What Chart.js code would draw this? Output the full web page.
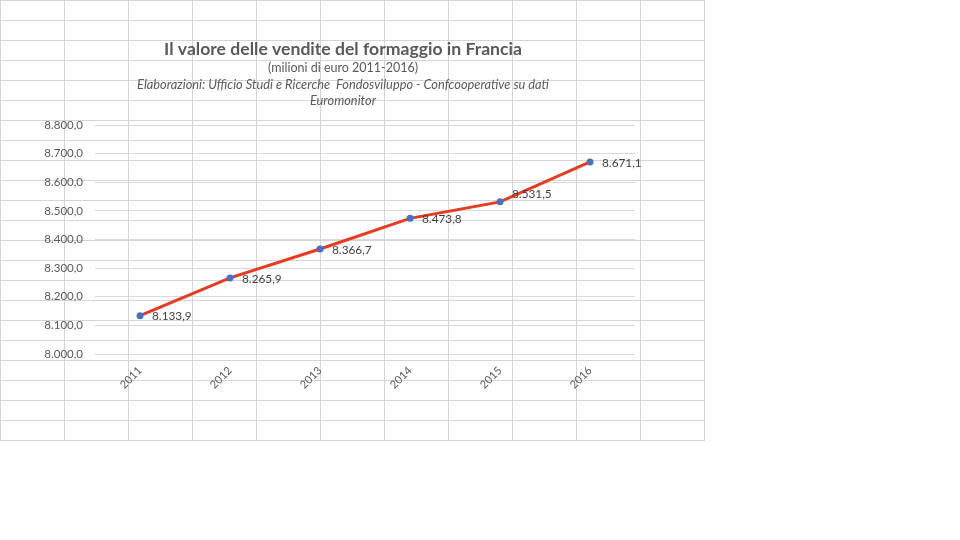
<!DOCTYPE html>
<html lang="it">
<head>
<meta charset="utf-8">
<title>Il valore delle vendite del formaggio in Francia</title>
<script src="https://cdn.jsdelivr.net/npm/chart.js@4.4.1/dist/chart.umd.min.js"></script>
<style>
  html, body { margin: 0; padding: 0; background: #fff; }
  body { width: 960px; height: 540px; position: relative; overflow: hidden; }
  /* griglia del foglio di calcolo dietro al grafico */
  .foglio {
    position: absolute; left: 0; top: 0; width: 705px; height: 441px;
    background-image:
      linear-gradient(to right, #d4d4d4 1px, transparent 1px),
      linear-gradient(to bottom, #d4d4d4 1px, transparent 1px);
    background-size: 64px 20px;
  }
  .grafico { position: absolute; left: 0; top: 0; width: 704px; height: 440px; }
</style>
</head>
<body>
<div class="foglio"></div>
<div class="grafico"><canvas id="myChart" width="704" height="440"></canvas></div>
<script>
// --- DATI ---
const anni = ["2011", "2012", "2013", "2014", "2015", "2016"];
const valori = [8133.9, 8265.9, 8366.7, 8473.8, 8531.5, 8671.1];
const asseMin = 8000;
const asseMax = 8800;
const passo = 100;

const titolo = "Il valore delle vendite del formaggio in Francia";
const sottotitolo = "(milioni di euro 2011-2016)";
const fonte = [
  "Elaborazioni: Ufficio Studi e Ricerche  Fondosviluppo - Confcooperative su dati",
  "Euromonitor",
];

// formato italiano: 8.133,9
function formatoIt(v) {
  const [intero, dec] = v.toFixed(1).split(".");
  return intero.replace(/\B(?=(\d{3})+(?!\d))/g, ".") + "," + dec;
}

Chart.defaults.font.family = "Lato, 'Open Sans', sans-serif";
Chart.defaults.color = "#595959";

// --- TITOLI ---
const pluginTitoli = {
  id: "titoli",
  afterDraw(chart) {
    const ctx = chart.ctx;
    const cx = 343;
    ctx.save();
    ctx.textAlign = "center";
    ctx.textBaseline = "middle";
    ctx.fillStyle = "#595959";
    ctx.font = "bold 17.6px Lato";
    ctx.fillText(titolo, cx, 49);
    ctx.font = "12.5px Lato";
    ctx.fillText(sottotitolo, cx, 68);
    ctx.font = "italic 12.8px Lato";
    fonte.forEach((riga, i) => ctx.fillText(riga, cx, 85 + i * 16));
    ctx.restore();
  },
};

// --- ETICHETTE DEI VALORI ---
const pluginEtichette = {
  id: "etichette",
  afterDatasetsDraw(chart) {
    const ctx = chart.ctx;
    const meta = chart.getDatasetMeta(0);
    ctx.save();
    ctx.font = "11.8px Lato";
    ctx.fillStyle = "#404040";
    ctx.textAlign = "left";
    ctx.textBaseline = "middle";
    meta.data.forEach((punto, i) => {
      const dy = i === 4 ? -8 : 1; // 2015 spostata in alto come nell'originale
      ctx.fillText(formatoIt(valori[i]), punto.x + 12, punto.y + dy);
    });
    ctx.restore();
  },
};

const ctx = document.getElementById("myChart").getContext("2d");
new Chart(ctx, {
  type: "line",
  data: {
    labels: anni,
    datasets: [
      {
        label: "Vendite",
        data: valori,
        borderColor: "#E83A1F",
        borderWidth: 3,
        tension: 0,
        pointRadius: 3.5,
        pointBackgroundColor: "#4472C4",
        pointBorderWidth: 0,
      },
    ],
  },
  options: {
    responsive: false,
    animation: false,
    layout: { padding: { top: 125, left: 0, right: 69, bottom: 46 } },
    plugins: {
      legend: { display: false },
      title: { display: false },
      tooltip: { enabled: false },
    },
    scales: {
      x: {
        offset: true,
        grid: { display: false },
        border: { display: false },
        ticks: {
          minRotation: 45,
          maxRotation: 45,
          padding: 2,
          color: "#595959",
          font: { size: 11 },
        },
        afterFit(scale) {
          scale.height = 40;
        },
      },
      y: {
        min: asseMin,
        max: asseMax,
        grid: { color: "#D9D9D9", drawTicks: false },
        border: { display: false },
        ticks: {
          stepSize: passo,
          padding: 12,
          color: "#595959",
          font: { size: 11.5 },
          callback: (v) => formatoIt(v),
        },
        afterFit(scale) {
          scale.width = 95;
        },
      },
    },
  },
  plugins: [pluginTitoli, pluginEtichette],
});
</script>
</body>
</html>
